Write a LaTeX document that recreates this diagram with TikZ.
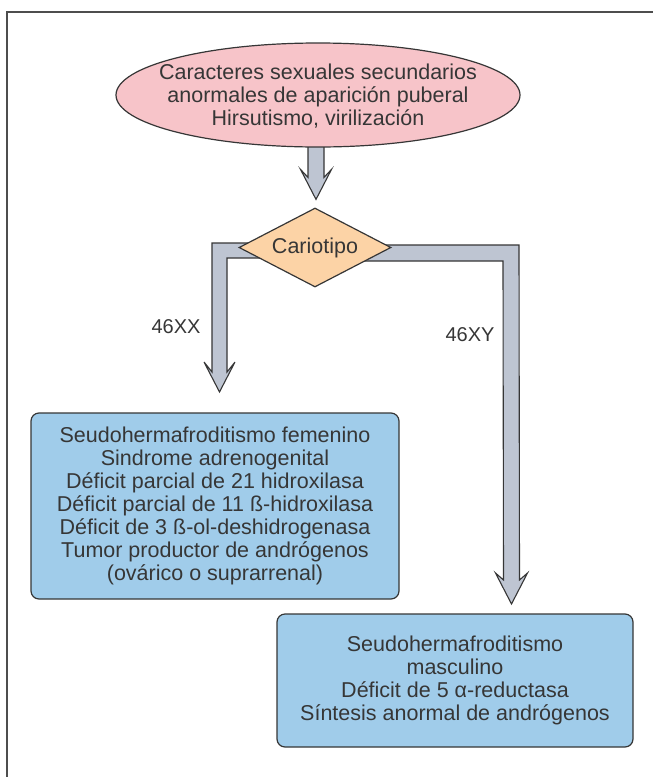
\documentclass[tikz,border=0pt]{standalone}
\usepackage{fontspec}
\setmainfont{Liberation Sans}
\usetikzlibrary{shapes.geometric,calc}
\pgfdeclarelayer{background}
\pgfsetlayers{background,main}
\definecolor{inkgray}{HTML}{363636}
\definecolor{framegray}{HTML}{4D4D4D}
\definecolor{pinkfill}{HTML}{F7C4C9}
\definecolor{peachfill}{HTML}{FCD3A6}
\definecolor{bluefill}{HTML}{A0CCEA}
\definecolor{arrowfill}{HTML}{BEC5D2}
\begin{document}
\begin{tikzpicture}[x=1pt,y=-1pt,
  every node/.style={text=inkgray},
  txt/.style={font=\fontsize{21.5}{23}\selectfont, align=center},
  startell/.style={ellipse, draw=inkgray, line width=1.2pt, fill=pinkfill,
    minimum width=404pt, minimum height=104pt, inner sep=0pt},
  decision/.style={diamond, draw=inkgray, line width=1.2pt, fill=peachfill,
    aspect=1.92, minimum width=152pt, minimum height=79pt, inner sep=0pt, txt},
  result/.style={rectangle, rounded corners=8pt, draw=inkgray, line width=1.2pt,
    fill=bluefill, inner sep=0pt, txt},
  fat/.style={draw=inkgray, line width=1.1pt, fill=arrowfill, line join=miter},
  branchlabel/.style={font=\fontsize{20}{22}\selectfont}
]
\useasboundingbox (0,0) rectangle (653,777);

% open frame: top and left rules
\draw[framegray, line width=1.5pt] (7,777) -- (7,12) -- (653,12);

% nodes
\node[startell] (start) at (318,95) {};
\node[txt] (startText) at ($(start.center)+(0,1)$)
  {Caracteres sexuales secundarios\\anormales de aparición puberal\\Hirsutismo, virilización};
\node[decision] (karyo) at (315,247.5) {Cariotipo};
\node[result, minimum width=368pt, minimum height=186pt] (fem) at (215,506)
  {Seudohermafroditismo femenino\\Sindrome adrenogenital\\Déficit parcial de 21 hidroxilasa\\Déficit parcial de 11 ß-hidroxilasa\\Déficit de 3 ß-ol-deshidrogenasa\\Tumor productor de andrógenos\\(ovárico o suprarrenal)};
\node[result, minimum width=356pt, minimum height=133pt] (masc) at (455,680.5)
  {Seudohermafroditismo\\masculino\\Déficit de 5 α-reductasa\\Síntesis anormal de andrógenos};

\node[branchlabel] (lblXX) at (176,327) {46XX};
\node[branchlabel] (lblXY) at (470,335) {46XY};

% arrow geometry
\coordinate (tipTop) at ($(karyo.north)+(1,-8)$);
\coordinate (topFrom) at (start.south -| tipTop);
\coordinate (cornerL) at (212,243);
\coordinate (tipL) at (219.5,392);
\coordinate (midL) at (karyo.center |- cornerL);
\coordinate (cornerR) at (519,245);
\coordinate (tipR) at (511.5,604);
\coordinate (midR) at (karyo.center |- cornerR);

\begin{pgfonlayer}{background}
  % ellipse -> karyotype
  \draw[fat] ($(topFrom)+(-8,-4)$) -- ($(tipTop)+(-8,-22)$) -- ($(tipTop)+(-15.5,-30)$)
    -- (tipTop) -- ($(tipTop)+(15.5,-30)$) -- ($(tipTop)+(8,-22)$)
    -- ($(topFrom)+(8,-4)$) -- cycle;
  % 46XX branch
  \draw[fat] (midL) -- (cornerL) -- ($(tipL)+(-7.5,-20)$) -- ($(tipL)+(-15.5,-30)$)
    -- (tipL) -- ($(tipL)+(15.5,-30)$) -- ($(tipL)+(7.5,-20)$)
    -- ($(cornerL)+(15,15)$) -- ($(midL)+(0,15)$) -- cycle;
  % 46XY branch
  \draw[fat] (midR) -- (cornerR) -- ($(tipR)+(8,-24)$) -- ($(tipR)+(16,-31)$)
    -- (tipR) -- ($(tipR)+(-16,-31)$) -- ($(tipR)+(-8,-24)$)
    -- ($(cornerR)+(-16,16)$) -- ($(midR)+(0,16)$) -- cycle;
\end{pgfonlayer}
\end{tikzpicture}
\end{document}
